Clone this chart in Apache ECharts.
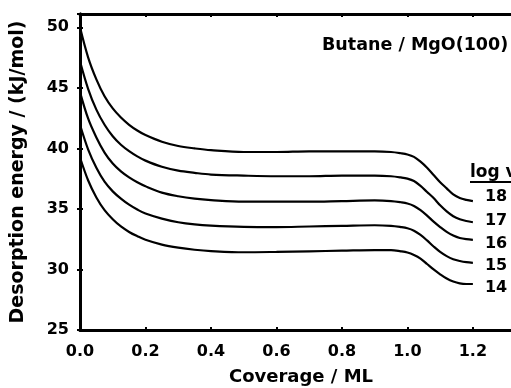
<!DOCTYPE html>
<html>
<head>
<meta charset="utf-8">
<script src="https://cdn.jsdelivr.net/npm/echarts@6/dist/echarts.min.js"></script>
<style>
  html, body { margin: 0; padding: 0; background: #fff; }
  #main { width: 511px; height: 388px; }
</style>
</head>
<body>
<div id="main"></div>
<script>
// coverage grid (ML) shared by all curves
const coverage = [0, 0.025, 0.05, 0.075, 0.1, 0.125, 0.15, 0.175, 0.2, 0.25, 0.3, 0.35, 0.4,
  0.5, 0.6, 0.7, 0.8, 0.9, 0.95, 0.98, 1.0, 1.02, 1.04, 1.06, 1.08, 1.1, 1.12, 1.14, 1.16, 1.18, 1.2];

// desorption energy (kJ/mol) for each log(nu) prefactor
const e18 = [50.0, 47.5, 45.7, 44.3, 43.3, 42.55, 41.95, 41.48, 41.1, 40.55, 40.2, 40.0, 39.85,
  39.7, 39.7, 39.75, 39.75, 39.75, 39.7, 39.6, 39.5, 39.3, 38.9, 38.4, 37.8, 37.2, 36.7, 36.2, 35.9, 35.75, 35.65];
const e17 = [47.2, 44.9, 43.2, 41.95, 41.0, 40.3, 39.77, 39.34, 38.99, 38.48, 38.16, 37.98, 37.84,
  37.75, 37.7, 37.7, 37.75, 37.75, 37.7, 37.6, 37.5, 37.3, 36.9, 36.4, 35.9, 35.3, 34.8, 34.4, 34.15, 34.0, 33.9];
const e16 = [44.65, 42.45, 40.9, 39.65, 38.75, 38.1, 37.6, 37.2, 36.87, 36.35, 36.05, 35.85, 35.73,
  35.6, 35.6, 35.6, 35.65, 35.7, 35.65, 35.55, 35.45, 35.25, 34.9, 34.45, 33.95, 33.5, 33.1, 32.8, 32.6, 32.5, 32.45];
const e15 = [41.95, 39.9, 38.4, 37.25, 36.45, 35.85, 35.35, 34.95, 34.62, 34.2, 33.9, 33.72, 33.62,
  33.52, 33.5, 33.55, 33.6, 33.65, 33.6, 33.5, 33.4, 33.2, 32.85, 32.4, 31.9, 31.45, 31.1, 30.85, 30.7, 30.6, 30.55];
const e14 = [39.25, 37.35, 35.95, 34.9, 34.15, 33.55, 33.1, 32.75, 32.45, 32.05, 31.8, 31.63, 31.52,
  31.42, 31.45, 31.5, 31.55, 31.6, 31.6, 31.5, 31.4, 31.2, 30.9, 30.45, 30.0, 29.6, 29.25, 29.0, 28.85, 28.8, 28.8];

const curveNames = ['18', '17', '16', '15', '14'];
const curves = [e18, e17, e16, e15, e14];
const labelShift = [-4, -1, 4, 3, 4];

const FONT = 'DejaVu Sans';

const chart = echarts.init(document.getElementById('main'));

const axisStyle = { lineStyle: { color: '#000', width: 3 } };
const tickStyle = { show: true, inside: true, length: 3, lineStyle: { color: '#000', width: 2 } };

const option = {
  animation: false,
  title: {
    text: 'Butane / MgO(100)',
    left: 317,
    top: 31,
    textStyle: { fontFamily: FONT, fontWeight: 'bold', fontSize: 17.5, color: '#000' }
  },
  grid: { left: 80, top: 14, width: 442, bottom: 58, outerBoundsMode: 'none', containLabel: false },
  xAxis: [
    {
      type: 'value', min: 0, max: 1.35, interval: 0.2, position: 'bottom',
      name: 'Coverage / ML', nameLocation: 'middle', nameGap: 38,
      nameTextStyle: { fontFamily: FONT, fontWeight: 'bold', fontSize: 18, color: '#000' },
      axisLine: axisStyle, axisTick: tickStyle, splitLine: { show: false },
      axisLabel: {
        showMaxLabel: false, margin: 14,
        fontFamily: FONT, fontWeight: 'bold', fontSize: 16, color: '#000',
        formatter: v => v.toFixed(1)
      }
    },
    {
      type: 'value', min: 0, max: 1.35, interval: 0.2, position: 'top',
      axisLine: axisStyle, axisTick: tickStyle, axisLabel: { show: false }, splitLine: { show: false }
    }
  ],
  yAxis: [
    {
      type: 'value', min: 25, max: 51.1, interval: 5, position: 'left',
      name: 'Desorption energy / (kJ/mol)', nameLocation: 'middle', nameGap: 52, nameRotate: 90,
      nameTextStyle: { fontFamily: FONT, fontWeight: 'bold', fontSize: 19, color: '#000' },
      axisLine: axisStyle, axisTick: tickStyle, splitLine: { show: false },
      axisLabel: {
        showMaxLabel: false, margin: 11,
        fontFamily: FONT, fontWeight: 'bold', fontSize: 16, color: '#000'
      }
    },
    {
      type: 'value', min: 25, max: 51.1, interval: 5, position: 'right',
      axisLine: axisStyle, axisTick: tickStyle, axisLabel: { show: false }, splitLine: { show: false }
    }
  ],
  graphic: [
    {
      type: 'text', left: 470, top: 164,
      style: { text: 'log v', fontFamily: FONT, fontWeight: 'bold', fontSize: 17, fill: '#000' }
    },
    {
      type: 'line', shape: { x1: 470, y1: 182, x2: 511, y2: 182 },
      style: { stroke: '#000', lineWidth: 2 }
    }
  ],
  series: curves.map((vals, i) => ({
    name: curveNames[i],
    type: 'line',
    showSymbol: false,
    smooth: 0.35,
    data: coverage.map((c, j) => [c, vals[j]]),
    lineStyle: { color: '#000', width: 2.2 },
    endLabel: {
      show: true,
      formatter: curveNames[i],
      offset: [4, labelShift[i]],
      fontFamily: FONT, fontWeight: 'bold', fontSize: 16, color: '#000'
    }
  }))
};

chart.setOption(option);
</script>
</body>
</html>
